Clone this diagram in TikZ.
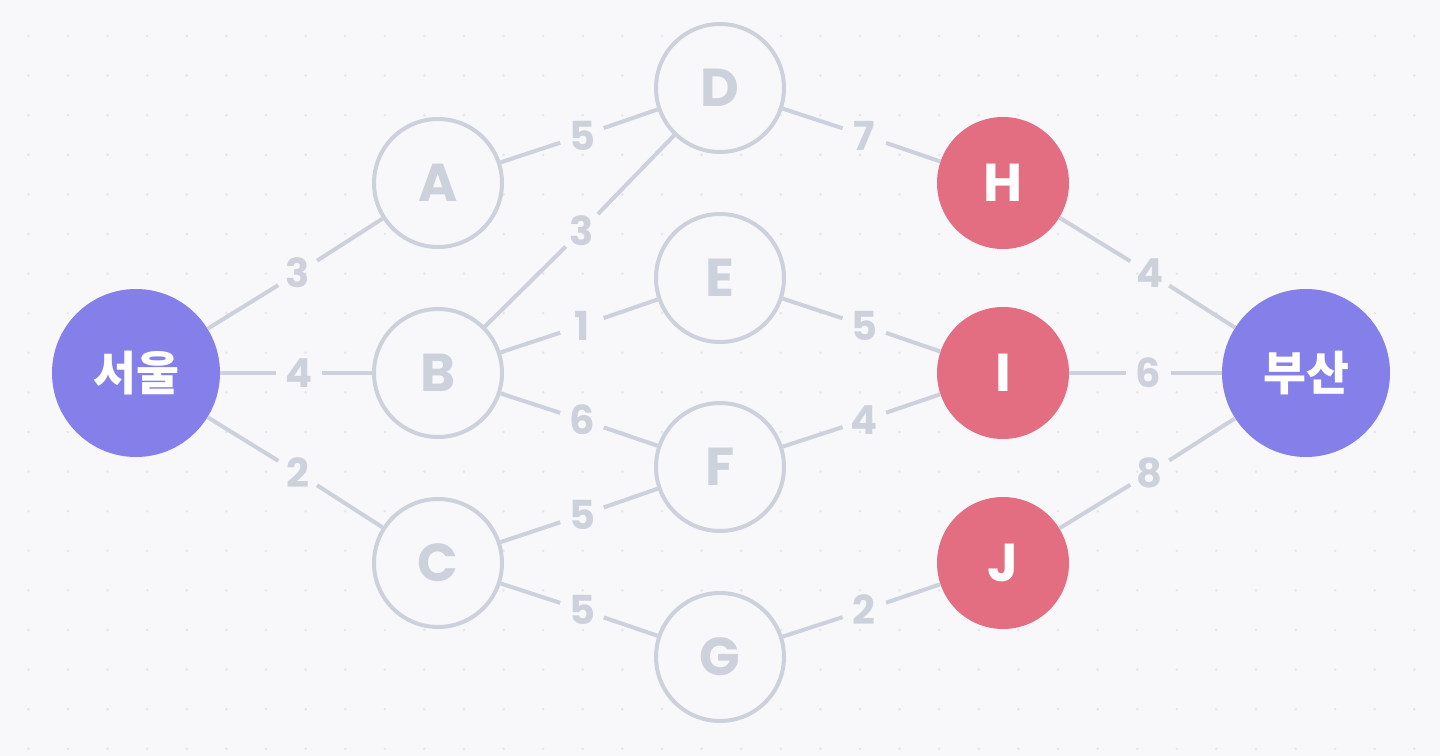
\documentclass[tikz,border=0pt]{standalone}
\usepackage{fontspec}
\setmainfont{Poppins}
\newfontfamily\kr{Noto Sans CJK KR}
\definecolor{bg}{HTML}{F8F8FB}
\definecolor{dotc}{HTML}{E6E7EC}
\definecolor{edgec}{HTML}{CDD1DC}
\definecolor{purp}{HTML}{857FEA}
\definecolor{redc}{HTML}{E36E81}
\tikzset{
  gnode/.style={circle,draw=edgec,line width=3pt,fill=bg,minimum size=96pt,inner sep=0pt,text=edgec,font=\bfseries\fontsize{40}{40}\selectfont},
  rnode/.style={circle,fill=redc,minimum size=99pt,inner sep=0pt,text=white,font=\bfseries\fontsize{40}{40}\selectfont},
  cnode/.style={circle,fill=purp,minimum size=126pt,inner sep=0pt,text=white,font=\kr\bfseries\fontsize{35}{35}\selectfont},
  wlab/.style={circle,minimum size=34pt,inner sep=0pt,text=edgec,font=\bfseries\fontsize{30}{30}\selectfont},
  edge/.style={draw=edgec,line width=3pt}
}
\begin{document}
\begin{tikzpicture}[x=0.75pt,y=-0.75pt]
\fill[bg] (0,0) rectangle (1440,756);
\useasboundingbox (0,0) rectangle (1440,756);
\foreach \i in {0,...,36}{
  \foreach \j in {0,...,18}{
    \fill[dotc] ({28.4+39.6*\i},{36+39.6*\j}) circle (1.1pt);
  }
}
\node[cnode] (seoul) at (136,373) {서울};
\node[cnode] (busan) at (1306,373) {부산};
\node[gnode] (A) at (438,183) {A};
\node[gnode] (B) at (438,373) {B};
\node[gnode] (C) at (438,563) {C};
\node[gnode] (D) at (720,88) {D};
\node[gnode] (E) at (720,278) {E};
\node[gnode] (F) at (720,467) {F};
\node[gnode] (G) at (720,657) {G};
\node[rnode] (H) at (1003,183) {H};
\node[rnode] (I) at (1003,373) {I};
\node[rnode] (J) at (1003,563) {J};
\foreach \a/\b/\w/\n in {seoul/A/3/l1, seoul/B/4/l2, seoul/C/2/l3, A/D/5/l4, B/D/3/l5, B/E/1/l6, B/F/6/l7, C/F/5/l8, C/G/5/l9, D/H/7/l10, E/I/5/l11, F/I/4/l12, G/J/2/l13, H/busan/4/l14, I/busan/6/l15, J/busan/8/l16}{
  \path (\a) -- node[wlab,pos=0.5,xshift=2.25pt] (\n) {\w} (\b);
  \draw[edge] (\a) -- (\n) -- (\b);
}
\end{tikzpicture}
\end{document}
